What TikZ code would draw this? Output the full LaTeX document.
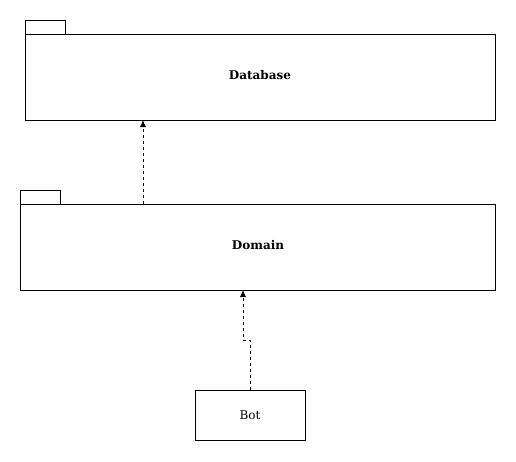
\documentclass[tikz,border=0pt]{standalone}
\usepackage{fontspec}
\setmainfont{DejaVu Serif}
\usetikzlibrary{arrows.meta}
\begin{document}
\begin{tikzpicture}[x=1pt,y=-1pt,
  box/.style={draw=black,line width=0.9pt,fill=white,inner sep=0pt},
  lbl/.style={font=\fontsize{12}{14}\selectfont},
  dep/.style={draw=black,line width=0.9pt,dash pattern=on 3pt off 3pt,
    -{Latex[length=7pt,width=6pt]}}]
\useasboundingbox (0,0) rectangle (516,461);
% Database package
\draw[line width=0.9pt] (25,34) -- (25,20) -- (65,20) -- (65,34);
\node[box,minimum width=470pt,minimum height=86pt,anchor=north west] (db) at (25,34) {};
\node[lbl,font=\fontsize{12}{14}\selectfont\bfseries] at (260,75) {Database};
% Domain package
\draw[line width=0.9pt] (20,204) -- (20,190) -- (60,190) -- (60,204);
\node[box,minimum width=475pt,minimum height=86pt,anchor=north west] (dom) at (20,204) {};
\node[lbl,font=\fontsize{12}{14}\selectfont\bfseries] at (258,245) {Domain};
% Bot
\node[box,lbl,minimum width=110pt,minimum height=50pt,anchor=north west] (bot) at (195,390) {};
\node[lbl] at (250,415) {Bot};
% dependencies
\coordinate (a1) at (143,204);
\coordinate (a2) at (143,120);
\draw[dep] (a1) -- (a2);
\coordinate (b1) at (250,390);
\coordinate (b2) at (250,340);
\coordinate (b3) at (243,340);
\coordinate (b4) at (243,290);
\draw[dep] (b1) -- (b2) -- (b3) -- (b4);
\end{tikzpicture}
\end{document}
